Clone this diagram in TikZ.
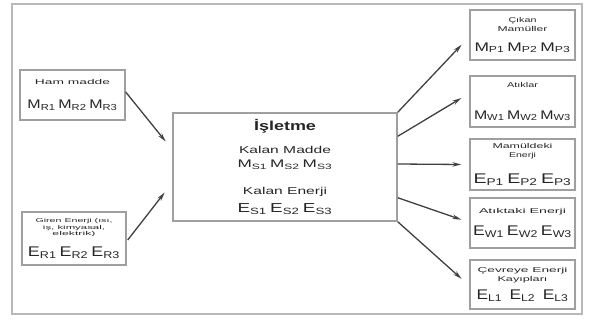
\documentclass[tikz,border=0pt]{standalone}
\usepackage{fontspec}
\setmainfont{Liberation Sans}
\usetikzlibrary{arrows.meta,calc}
\newcommand\fitw[2]{\resizebox{#1}{\height}{#2}}
\newcommand\lblfnt{\fontsize{7}{8}\selectfont}
\newcommand\smlfnt{\fontsize{5.6}{6}\selectfont}
\newcommand\mfnt{\fontsize{12.5}{13}\selectfont}
\newcommand\efnt{\fontsize{14}{15}\selectfont}
\newcommand\tightlines{\fontsize{7}{0}\selectfont\setlength{\lineskiplimit}{-100pt}\setlength{\lineskip}{0pt}}
\begin{document}
\begin{tikzpicture}[x=1pt,y=-1pt,
  box/.style={draw=gray!75, line width=1.4pt, rectangle, inner sep=0pt, align=center,
    font=\tightlines, text=black!85},
  flow/.style={draw=black!75, line width=1.3pt, -{Stealth[length=9pt,width=4.5pt]}, shorten >=1pt}
]
\useasboundingbox (0,0) rectangle (591,321);
\draw[gray!55, line width=1.8pt] (12,4) rectangle (582,314);

% left boxes
\node[box, minimum width=105pt, minimum height=50pt] (ham) at (72.5,95)
  {\fitw{75pt}{\lblfnt Ham madde}\\[24pt]
   \fitw{90pt}{\mfnt M\textsubscript{R1}\,M\textsubscript{R2}\,M\textsubscript{R3}}};
\node[box, minimum width=104pt, minimum height=53pt] (gir) at (74,238.5)
  {\fitw{77pt}{\smlfnt Giren Enerji (ısı,}\\[6.5pt]
   \fitw{62pt}{\smlfnt iş, kimyasal,}\\[6.5pt]
   \fitw{43pt}{\smlfnt elektrik)}\\[20.5pt]
   \fitw{92pt}{\efnt E\textsubscript{R1}\,E\textsubscript{R2}\,E\textsubscript{R3}}};

% central box
\node[box, minimum width=224pt, minimum height=108pt] (cen) at (285,167)
  {\fitw{62pt}{\fontsize{13}{14}\selectfont\bfseries İşletme}\\[23.5pt]
   \fitw{92pt}{\fontsize{10}{11}\selectfont Kalan Madde}\\[13.5pt]
   \fitw{95pt}{\fontsize{11}{12}\selectfont M\textsubscript{S1}\,M\textsubscript{S2}\,M\textsubscript{S3}}\\[27.5pt]
   \fitw{84pt}{\fontsize{10}{11}\selectfont Kalan Enerji}\\[17.5pt]
   \fitw{95pt}{\fontsize{13}{14}\selectfont E\textsubscript{S1}\,E\textsubscript{S2}\,E\textsubscript{S3}}};

% right boxes
\node[box, minimum width=105pt, minimum height=50pt] (r1) at (522.5,35)
  {\fitw{28pt}{\lblfnt Çıkan}\\[9pt]
   \fitw{50pt}{\lblfnt Mamüller}\\[20pt]
   \fitw{96pt}{\mfnt M\textsubscript{P1}\,M\textsubscript{P2}\,M\textsubscript{P3}}};
\node[box, minimum width=105pt, minimum height=51pt] (r2) at (522.5,101.5)
  {\fitw{31pt}{\lblfnt Atıklar}\\[32pt]
   \fitw{97pt}{\mfnt M\textsubscript{W1}\,M\textsubscript{W2}\,M\textsubscript{W3}}};
\node[box, minimum width=105pt, minimum height=51pt] (r3) at (522.5,164.5)
  {\fitw{60pt}{\lblfnt Mamüldeki}\\[9pt]
   \fitw{27pt}{\lblfnt Enerji}\\[26pt]
   \fitw{98pt}{\efnt E\textsubscript{P1}\,E\textsubscript{P2}\,E\textsubscript{P3}}};
\node[box, minimum width=105pt, minimum height=50pt] (r4) at (522.5,223)
  {\fitw{87pt}{\lblfnt Atıktaki Enerji}\\[22.5pt]
   \fitw{99pt}{\efnt E\textsubscript{W1}\,E\textsubscript{W2}\,E\textsubscript{W3}}};
\node[box, minimum width=105pt, minimum height=49pt] (r5) at (522.5,284.5)
  {\fitw{90pt}{\lblfnt Çevreye Enerji}\\[9pt]
   \fitw{50pt}{\lblfnt Kayıpları}\\[18.5pt]
   \fitw{92pt}{\efnt E\textsubscript{L1}\hspace{6pt}E\textsubscript{L2}\hspace{6pt}E\textsubscript{L3}}};

% input arrows
\draw[flow] ($(ham.east)+(0,-3)$) -- ($(cen.north west)+(-6,30)$);
\draw[flow] ($(gir.east)+(1,1.5)$) -- ($(cen.south west)+(-7,-30)$);

% output arrows
\draw[flow] (cen.north east) -- ($(r1.west)+(-7,9)$);
\draw[flow] ($(cen.north east)+(0,24)$) -- ($(r2.west)+(-7,-4)$);
\draw[flow] ($(cen.east)+(0,-3)$) -- ($(r3.west)+(-7,0)$);
\draw[flow] ($(cen.south east)+(0,-24)$) -- ($(r4.west)+(-7,-3)$);
\draw[flow] (cen.south east) -- ($(r5.west)+(-7,-5)$);
\end{tikzpicture}
\end{document}
